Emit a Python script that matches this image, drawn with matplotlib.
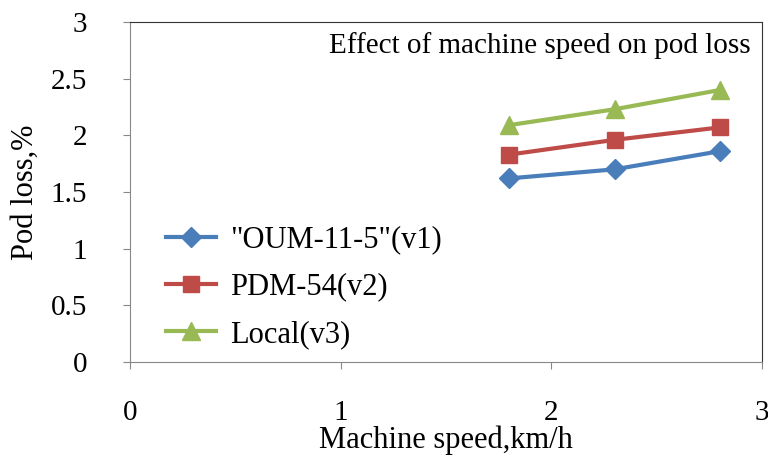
import matplotlib
matplotlib.use("Agg")
import matplotlib.pyplot as plt

speed = [1.8, 2.3, 2.8]
oum = [1.62, 1.70, 1.86]
pdm = [1.83, 1.96, 2.07]
local = [2.09, 2.23, 2.40]
labels = ['"OUM-11-5"(v1)', 'PDM-54(v2)', 'Local(v3)']
xticks = [0, 1, 2, 3]
yticks = [0, 0.5, 1, 1.5, 2, 2.5, 3]

plt.rcParams['font.family'] = ['Liberation Serif', 'DejaVu Serif']

fig = plt.figure(figsize=(7.68, 4.57), dpi=100)
ax = fig.add_axes([130/768, 1-362/457, 632/768, 340/457])

ax.plot(speed, oum, color='#4A7EBB', lw=3, marker='D', ms=10, label=labels[0])
ax.plot(speed, pdm, color='#BE4B48', lw=3, marker='s', ms=12, label=labels[1])
ax.plot(speed, local, color='#98B954', lw=3, marker='^', ms=13, label=labels[2])

ax.set_xlim(0, 3)
ax.set_ylim(0, 3)
ax.set_xticks(xticks)
ax.set_yticks(yticks)
ax.set_xticklabels([str(t) for t in xticks])
ax.set_yticklabels([('%g' % t) for t in yticks])
ax.tick_params(axis='both', labelsize=21, length=5, color='#888888', direction='out')
ax.tick_params(axis='x', pad=22)
ax.tick_params(axis='y', pad=26)
for s in ['left', 'bottom']:
    ax.spines[s].set_color('#888888')
for s in ['top', 'right']:
    ax.spines[s].set_color('#333333')

ax.set_xlabel('Machine speed,km/h', fontsize=22, labelpad=0)
ax.set_ylabel('Pod loss,%', fontsize=22, labelpad=8)

ax.text(0.982, 0.97, 'Effect of machine speed on pod loss', transform=ax.transAxes,
        ha='right', va='top', fontsize=21)

ax.legend(loc='center left', bbox_to_anchor=(0.037, 0.22), frameon=False, fontsize=22,
          handlelength=1.65, handletextpad=0.45, labelspacing=0.6, borderaxespad=0)

fig.savefig('out.png', dpi=100)
